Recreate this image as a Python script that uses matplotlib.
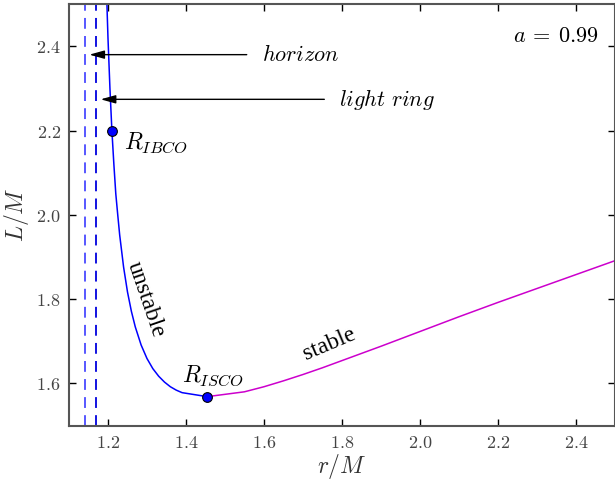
import matplotlib
matplotlib.use("Agg")
import matplotlib.pyplot as plt

plt.rcParams["mathtext.fontset"] = "cm"

# a = 0.99 Kerr, prograde circular orbits
r_unstable = [1.196, 1.198, 1.200, 1.205, 1.210, 1.215, 1.220, 1.225, 1.230,
              1.240, 1.250, 1.260, 1.270, 1.285, 1.300, 1.315, 1.330, 1.345,
              1.360, 1.375, 1.390, 1.4545]
L_unstable = [2.541, 2.477, 2.419, 2.300, 2.200, 2.121, 2.050, 2.000, 1.952,
              1.876, 1.817, 1.771, 1.734, 1.691, 1.659, 1.635, 1.617, 1.603,
              1.592, 1.584, 1.578, 1.5685]
r_stable = [1.4545, 1.55, 1.60, 1.65, 1.70, 1.75, 1.80, 1.90, 2.00, 2.10, 2.20,
            2.30, 2.40, 2.50]
L_stable = [1.5685, 1.580, 1.592, 1.606, 1.621, 1.637, 1.654, 1.688, 1.723,
            1.758, 1.792, 1.825, 1.858, 1.891]

r_horizon = 1.141
r_light_ring = 1.168
r_ibco, L_ibco = 1.21, 2.20
r_isco, L_isco = 1.4545, 1.5685

x_ticks = [1.2, 1.4, 1.6, 1.8, 2.0, 2.2, 2.4]
y_ticks = [1.6, 1.8, 2.0, 2.2, 2.4]

fig = plt.figure(figsize=(6.15, 4.8), dpi=100)
ax = fig.add_axes([0.1122, 0.1135, 0.8875, 0.878])

ax.plot(r_unstable, L_unstable, color="#0000ff", lw=1.1)
ax.plot(r_stable, L_stable, color="#cc00cc", lw=1.1)
ax.axvline(r_horizon, color="#4a4aff", ls=(0, (6, 4)), lw=1.3)
ax.axvline(r_light_ring, color="#0000dd", ls=(0, (6, 4)), lw=1.3)
ax.plot([r_ibco, r_isco], [L_ibco, L_isco], "o", color="#0000ff", mec="black",
        mew=0.8, ms=7, zorder=5)

ax.text(r_ibco + 0.031, L_ibco - 0.03, r"$R_{IBCO}$", fontsize=17, va="center")
ax.text(r_isco - 0.065, L_isco + 0.05, r"$R_{ISCO}$", fontsize=17, va="center")
ax.text(2.459, 2.424, r"$a\:=\:0.99$", fontsize=16, ha="right", va="center")

arr = dict(arrowstyle="-|>,head_length=0.9,head_width=0.25", color="black", lw=1.0)
ax.annotate("", xy=(r_horizon + 0.004, 2.380), xytext=(1.563, 2.380), arrowprops=arr)
ax.text(1.594, 2.380, r"$horizon$", fontsize=16, va="center")
ax.annotate("", xy=(r_light_ring + 0.006, 2.274), xytext=(1.762, 2.274), arrowprops=arr)
ax.text(1.793, 2.274, r"$light\ ring$", fontsize=16, va="center")

ax.text(1.296, 1.800, "unstable", fontsize=17, family="Liberation Serif",
        rotation=-71, ha="center", va="center", rotation_mode="anchor")
ax.text(1.768, 1.692, "stable", fontsize=17, family="Liberation Serif",
        rotation=23, ha="center", va="center", rotation_mode="anchor")

ax.set_xlim(1.1, 2.5)
ax.set_ylim(1.5, 2.5)
ax.set_xticks(x_ticks)
ax.set_yticks(y_ticks)
ax.set_xticklabels([r"$%.1f$" % v for v in x_ticks])
ax.set_yticklabels([r"$%.1f$" % v for v in y_ticks])
ax.tick_params(direction="in", top=True, right=True, length=5, width=1,
               labelsize=13, labelcolor="#444444", pad=6)
for s in ax.spines.values():
    s.set_color("#555555")
    s.set_linewidth(1.5)
ax.set_xlabel(r"$r/M$", fontsize=17, labelpad=0, color="#333333")
ax.set_ylabel(r"$L/M$", fontsize=17, labelpad=4, color="#333333")

fig.savefig("out.png", dpi=100)
